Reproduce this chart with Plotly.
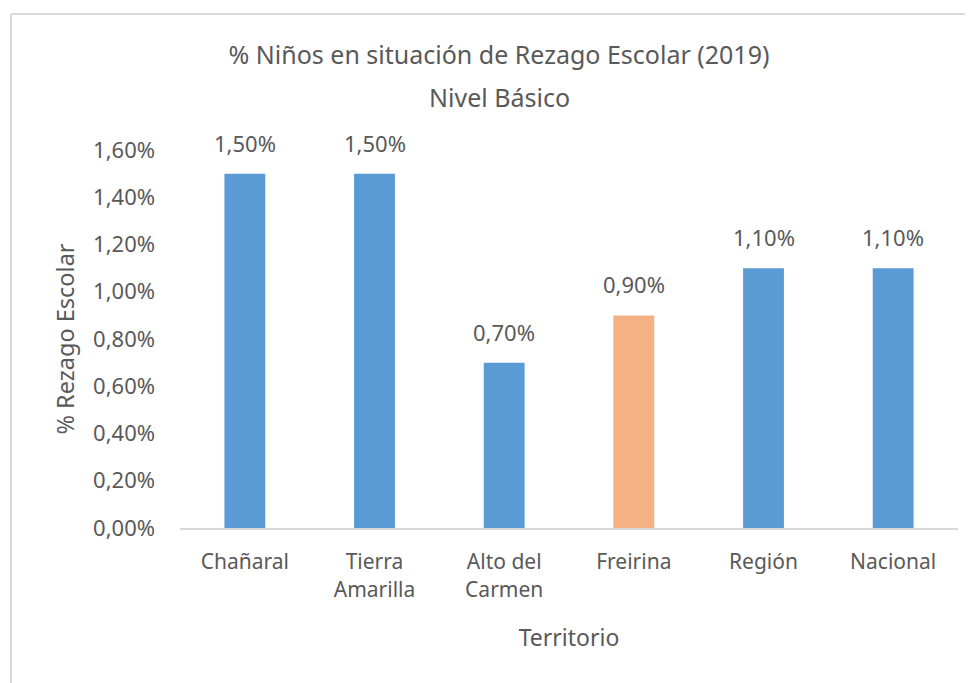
import plotly.graph_objects as go

categories = ["Chañaral", "Tierra<br>Amarilla", "Alto del<br>Carmen", "Freirina", "Región", "Nacional"]
values = [1.5, 1.5, 0.7, 0.9, 1.1, 1.1]
bar_colors = ["#5B9BD5", "#5B9BD5", "#5B9BD5", "#F4B183", "#5B9BD5", "#5B9BD5"]
tick_vals = [0, 0.2, 0.4, 0.6, 0.8, 1.0, 1.2, 1.4, 1.6]
tick_text = ["0,00%", "0,20%", "0,40%", "0,60%", "0,80%", "1,00%", "1,20%", "1,40%", "1,60%"]
label_text = ["%s%%" % ("%.2f" % v).replace(".", ",") for v in values]

FONT = "Noto Sans"
GRAY = "#595959"

# page body has an 8px margin; work in screen coordinates shifted by OFF
OFF = 8
W, H = 973, 683
PL, PR, PT, PB = 180 - OFF, 958 - OFF, 150 - OFF, 528 - OFF   # plot area in figure px
ML, MR, MT, MB = PL, W - PR, PT, H - PB
PW = PR - PL
PH = PB - PT


def px_x(p):
    return (p - OFF - PL) / PW


def px_y(p):
    return (PB - (p - OFF)) / PH


fig = go.Figure()
fig.add_trace(go.Bar(
    x=categories, y=values, marker=dict(color=bar_colors, line=dict(width=0)),
    hoverinfo="skip",
))

for c, v, t in zip(categories, values, label_text):
    fig.add_annotation(x=c, y=v, text=t, showarrow=False, yanchor="bottom",
                       yshift=14, font=dict(family=FONT, size=22, color=GRAY))

fig.add_annotation(xref="paper", yref="paper", x=px_x(499), y=px_y(97),
                   text="Nivel Básico", showarrow=False, xanchor="center", yanchor="middle",
                   font=dict(family=FONT, size=25, color=GRAY))

fig.add_shape(type="line", xref="paper", yref="paper", x0=px_x(11), x1=px_x(990),
              y0=px_y(14), y1=px_y(14), line=dict(color="#D9D9D9", width=2))
fig.add_shape(type="line", xref="paper", yref="paper", x0=px_x(11), x1=px_x(11),
              y0=px_y(14), y1=px_y(700), line=dict(color="#D9D9D9", width=2))

fig.update_layout(
    width=W, height=H,
    margin=dict(l=ML, r=MR, t=MT, b=MB, autoexpand=False),
    paper_bgcolor="white", plot_bgcolor="white",
    bargap=0.685,
    showlegend=False,
    font=dict(family=FONT, color=GRAY),
    title=dict(text="% Niños en situación de Rezago Escolar (2019)", x=(499 - OFF) / W,
               xanchor="center", xref="container", yref="container",
               y=1 - (55 - OFF) / H, yanchor="middle",
               font=dict(family=FONT, size=25, color=GRAY)),
    xaxis=dict(
        showline=True, linecolor="#D9D9D9", linewidth=2, ticks="", showgrid=False,
        tickfont=dict(family=FONT, size=21, color=GRAY), ticklabelstandoff=14,
        title=dict(text="Territorio", font=dict(family=FONT, size=23, color=GRAY), standoff=28),
        automargin=False,
    ),
    yaxis=dict(
        range=[0, 1.6], tickvals=tick_vals, ticktext=tick_text, showgrid=False,
        zeroline=False, showline=False, ticks="",
        tickfont=dict(family=FONT, size=22, color=GRAY), ticklabelstandoff=24,
        title=dict(text="% Rezago Escolar", font=dict(family=FONT, size=23.5, color=GRAY), standoff=11),
        automargin=False,
    ),
)

fig.write_html("out.html")
